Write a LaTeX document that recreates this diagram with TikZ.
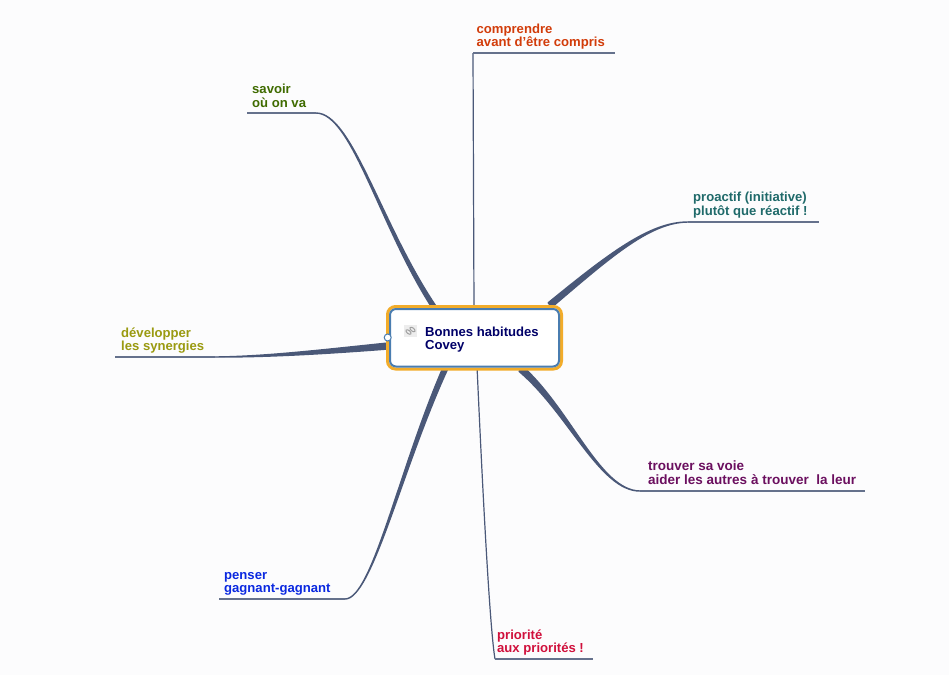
\documentclass[tikz,border=0pt]{standalone}
\usepackage{fontspec}
\setmainfont{Liberation Sans}
\definecolor{bg}{HTML}{FCFCFD}
\definecolor{branch}{HTML}{4A5878}
\definecolor{rim}{HTML}{F2AC2A}
\definecolor{inner}{HTML}{4A7DB0}
\definecolor{c1}{HTML}{3F6B00}
\definecolor{c2}{HTML}{D23C0A}
\definecolor{c3}{HTML}{1F6A6A}
\definecolor{c4}{HTML}{6B0F5F}
\definecolor{c5}{HTML}{D0103C}
\definecolor{c6}{HTML}{0A28E0}
\definecolor{c7}{HTML}{9A9A10}
\definecolor{c8}{HTML}{000068}
\tikzset{
  x=1pt,y=-1pt,
  lab/.style={anchor=west,inner sep=0pt,align=left,font=\bfseries\fontsize{13.1}{13.5}\selectfont},
  widelab/.style={lab,font=\bfseries\fontsize{13.5}{13.5}\selectfont},
  under/.style={draw=branch!85!white,line width=1.1pt},
  taper/.style={fill=branch,draw=branch,line width=1.4pt,line join=round},
  thin branch/.style={draw=branch,line width=1.2pt},
}
\begin{document}
\begin{tikzpicture}
\useasboundingbox (0,0) rectangle (949,675);
\fill[bg] (0,0) rectangle (949,675);
% branch coordinates
\coordinate (a1) at (247,113); \coordinate (a2) at (316,113);
\coordinate (b1) at (473,53);  \coordinate (b2) at (615,53);
\coordinate (d1) at (688,222); \coordinate (d2) at (819,222);
\coordinate (e1) at (640,491); \coordinate (e2) at (865,491);
\coordinate (f1) at (495,659); \coordinate (f2) at (593,659);
\coordinate (g1) at (219,599); \coordinate (g2) at (345,599);
\coordinate (h1) at (115,357); \coordinate (h2) at (215,357);
\coordinate (rb) at (474,310); \coordinate (rf) at (477,366);
% tapered branches
\fill[taper] (316,113) .. controls (352,112.8) and (381.0,224.4) .. (435.7,305.8) -- (432.3,308.2) .. controls (379.0,225.6) and (352,113.2) .. (316,113) -- cycle;
\fill[taper] (688,222) .. controls (650,221.7) and (608.7,253.5) .. (548.2,302.8) -- (551.8,307.2) .. controls (611.3,256.5) and (650,222.3) .. (688,222) -- cycle;
\fill[taper] (640,491) .. controls (600,490.7) and (571.3,410.5) .. (523,366.7) -- (519,371.3) .. controls (568.7,413.5) and (600,491.3) .. (640,491) -- cycle;
\fill[taper] (345,599) .. controls (372,598.7) and (401.2,470.5) .. (447.2,370) -- (442.8,368) .. controls (398.8,469.5) and (372,599.3) .. (345,599) -- cycle;
\fill[taper] (214,357) .. controls (265,356.6) and (320,350) .. (388,343) -- (388,349) .. controls (320,354.2) and (265,357.2) .. (214,357) -- cycle;
\draw[thin branch] (b1) -- (rb);
\draw[thin branch] (f1) .. controls (490,630) and (483,500) .. (rf);
% underlines
\draw[under] (a1) -- (a2);
\draw[under] (b1) -- (b2);
\draw[under] (d1) -- (d2);
\draw[under] (e1) -- (e2);
\draw[under] (f1) -- (f2);
\draw[under] (g1) -- (g2);
\draw[under] (h1) -- (h2);
% labels
\node[lab,text=c1] (la) at (252,96) {savoir\\où on va};
\node[lab,text=c2] (lb) at (476.5,36.5) {comprendre\\avant d'être compris};
\node[lab,text=c3] (ld) at (693,205) {proactif (initiative)\\plutôt que réactif !};
\node[widelab,text=c4] (le) at (648,472.5) {trouver sa voie\\aider les autres à trouver\ \ la leur};
\node[lab,text=c5] (lf) at (497,642.5) {priorité\\aux priorités !};
\node[lab,text=c6] (lg) at (224,584) {penser\\gagnant-gagnant};
\node[lab,text=c7] (lh) at (121,340.5) {développer\\les synergies};
% central box
\draw[draw=rim,fill=white,line width=3pt,rounded corners=8pt] (387.5,306.5) rectangle (561.5,369);
\draw[draw=inner,line width=2pt,rounded corners=6pt] (390,309) rectangle (559,366.5);
\node[lab,text=c8] (main) at (425,339.5) {Bonnes habitudes\\Covey};
% link icon
\fill[gray!14] (404,325) rectangle (417,337);
\draw[gray!75,line width=1pt,rotate around={-40:(408.5,332)}] (408.5,332) ellipse (3 and 1.6);
\draw[gray!75,line width=1pt,rotate around={-40:(412.5,329.5)}] (412.5,329.5) ellipse (3 and 1.6);
\draw[draw=inner,fill=white,line width=1pt] (387.7,337.5) circle (3.5);
\end{tikzpicture}
\end{document}
